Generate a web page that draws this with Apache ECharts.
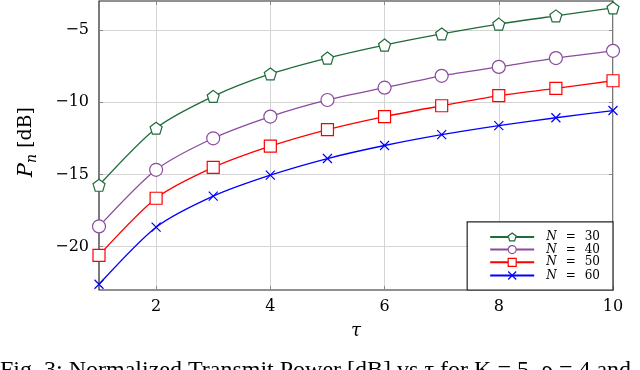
<!DOCTYPE html>
<html><head><meta charset="utf-8">
<script src="https://cdn.jsdelivr.net/npm/echarts@6/dist/echarts.min.js"></script>
<style>html,body{margin:0;padding:0;background:#fff}#c{width:640px;height:370px}</style>
</head><body><div id="c"></div>
<script>
const tau = [1,2,3,4,5,6,7,8,9,10];
const xTicks = [2,4,6,8,10];
const yTicks = [-20,-15,-10,-5];
const seriesNames = ['30','40','50','60'];
const pN30 = [-15.75,-11.8,-9.6,-8.05,-6.95,-6.05,-5.28,-4.6,-4.03,-3.48];
const pN40 = [-18.6,-14.68,-12.5,-11.0,-9.85,-9.0,-8.18,-7.56,-6.95,-6.45];
const pN50 = [-20.6,-16.65,-14.52,-13.05,-11.9,-11.0,-10.25,-9.55,-9.05,-8.52];
const pN60 = [-22.6,-18.65,-16.5,-15.05,-13.9,-13.0,-12.25,-11.62,-11.08,-10.58];
const allData = [pN30,pN40,pN50,pN60];
const colors = ['#1f6b3a','#8b4a9e','#ff0000','#0000ff'];
const pent = 'path://M0,-1 L0.951,-0.309 L0.588,0.809 L-0.588,0.809 L-0.951,-0.309 Z';
const cross = 'path://M-1,-1 L1,1 M1,-1 L-1,1';
const symbols = [pent,'circle','rect',cross];
const sizes = [12,13,12,9];
const serif = '"DejaVu Serif","Liberation Serif",serif';
const times = '"Liberation Serif","Times New Roman",serif';

const chart = echarts.init(document.getElementById('c'), null, {renderer:'canvas'});
const series = allData.map((d,i)=>({
  name: 'N = ' + seriesNames[i],
  type: 'line',
  data: tau.map((t,k)=>[t,d[k]]),
  smooth: 0.25,
  symbol: symbols[i],
  symbolSize: sizes[i],
  showAllSymbol: true,
  lineStyle: {color: colors[i], width: 1.3},
  itemStyle: {color: i===3 ? 'none' : '#ffffff', borderColor: colors[i], borderWidth: 1.2},
  z: 3 + i,
  clip: false
}));
const axTickStyle = {lineStyle:{color:'#888', width:1}};
chart.setOption({
  animation: false,
  backgroundColor: '#fff',
  grid: {left: 99, right: 27, top: 1, bottom: 80, show: true, borderColor: '#222', borderWidth: 1.2, containLabel: false},
  xAxis: [{
    type: 'value', min: 1, max: 10,
    axisLine: {show: false},
    axisTick: {show: true, inside: true, length: 4, customValues: xTicks, ...axTickStyle},
    axisLabel: {customValues: xTicks, fontFamily: serif, fontSize: 16, color: '#000', margin: 9},
    splitLine: {show: true, lineStyle: {color: '#d4d4d4', width: 1}},
    name: 'τ', nameLocation: 'middle', nameGap: 32,
    nameTextStyle: {fontFamily: serif, fontStyle: 'italic', fontSize: 18, color: '#000'}
  },{
    type: 'value', min: 1, max: 10, position: 'top',
    axisLine: {show: false},
    axisTick: {show: true, inside: true, length: 4, customValues: xTicks, ...axTickStyle},
    axisLabel: {show: false}, splitLine: {show: false}
  }],
  yAxis: [{
    type: 'value', min: -23, max: -3,
    axisLine: {show: false},
    axisTick: {show: true, inside: true, length: 4, customValues: yTicks, ...axTickStyle},
    axisLabel: {customValues: yTicks, fontFamily: serif, fontSize: 16, color: '#000', margin: 10,
      formatter: v => String(v).replace('-', '\u2212')},
    splitLine: {show: true, lineStyle: {color: '#d4d4d4', width: 1}}
  },{
    type: 'value', min: -23, max: -3, position: 'right',
    axisLine: {show: false},
    axisTick: {show: true, inside: true, length: 4, customValues: yTicks, ...axTickStyle},
    axisLabel: {show: false}, splitLine: {show: false}
  }],
  legend: {
    right: 27, bottom: 80, orient: 'vertical',
    itemWidth: 44, itemHeight: 10, itemGap: 0.7,
    padding: [9, 13, 8, 22],
    borderColor: '#222', borderWidth: 1.2, backgroundColor: '#fff',
    data: series.map(s=>s.name),
    formatter: name => '{i|N}{e|=}{d|' + name.split('= ')[1] + '}',
    textStyle: {fontFamily: serif, fontSize: 12, color: '#000', lineHeight: 12, padding: [0,0,0,7],
      rich: {
        i: {fontFamily: serif, fontStyle: 'italic', fontSize: 12, lineHeight: 12},
        e: {fontFamily: serif, fontSize: 12, lineHeight: 12, padding: [0,9,0,9]},
        d: {fontFamily: serif, fontSize: 12, lineHeight: 12}
      }},
    itemStyle: {borderWidth: 1.2}
  },
  series: series,
  graphic: [{
    type: 'text', left: 16, top: 107, rotation: Math.PI/2, origin: [0,0],
    style: {
      text: '{i|P}{s|n}{t| [dB]}',
      rich: {
        i: {fontFamily: serif, fontStyle: 'italic', fontSize: 21, fill: '#000'},
        s: {fontFamily: serif, fontStyle: 'italic', fontSize: 14, fill: '#000', padding: [11,0,0,0]},
        t: {fontFamily: serif, fontSize: 19, fill: '#000'}
      },
      font: '19px ' + serif, fill: '#000'
    }
  },{
    type: 'text', left: 0, top: 359,
    style: {text: 'Fig. 3: Normalized Transmit Power [dB] vs τ for K = 5, ρ = 4 and', font: '24px ' + times, fill: '#000'}
  }]
});
</script></body></html>
